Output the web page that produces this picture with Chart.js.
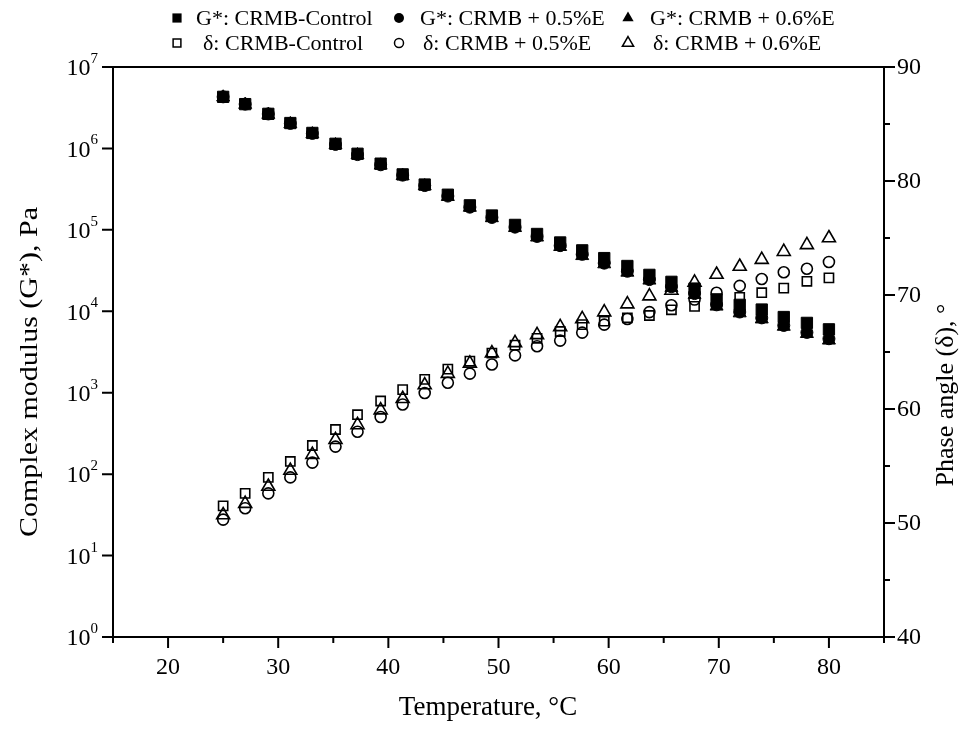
<!DOCTYPE html>
<html><head><meta charset="utf-8">
<script src="https://cdn.jsdelivr.net/npm/chart.js@4.4.0/dist/chart.umd.min.js"></script>
<style>
html,body{margin:0;padding:0;background:#fff;}
#wrap{position:relative;width:977px;height:733px;}
</style></head><body>
<div id="wrap"><canvas id="c" width="977" height="733"></canvas></div>
<script>
const temperatureC = [25, 27.0, 29.1, 31.1, 33.1, 35.2, 37.2, 39.3, 41.3, 43.3, 45.4, 47.4, 49.4, 51.5, 53.5, 55.6, 57.6, 59.6, 61.7, 63.7, 65.7, 67.8, 69.8, 71.9, 73.9, 75.9, 78.0, 80];
const gStarControl = [4.3e6, 3.5e6, 2.66e6, 2.05e6, 1.55e6, 1.14e6, 8.6e5, 6.5e5, 4.8e5, 3.6e5, 2.7e5, 2.0e5, 1.5e5, 1.15e5, 8.9e4, 7.0e4, 5.6e4, 4.5e4, 3.6e4, 2.8e4, 2.3e4, 1.9e4, 1.4e4, 1.2e4, 1.05e4, 8.5e3, 7.2e3, 6.0e3];
const gStar05E = [4.3e6, 3.5e6, 2.65e6, 2.03e6, 1.53e6, 1.12e6, 8.4e5, 6.3e5, 4.7e5, 3.5e5, 2.6e5, 1.9e5, 1.42e5, 1.08e5, 8.3e4, 6.4e4, 5.0e4, 3.9e4, 3.1e4, 2.45e4, 2.0e4, 1.65e4, 1.2e4, 9.8e3, 8.3e3, 6.7e3, 5.5e3, 4.6e3];
const gStar06E = [4.25e6, 3.45e6, 2.6e6, 2.0e6, 1.5e6, 1.1e6, 8.3e5, 6.2e5, 4.6e5, 3.45e5, 2.55e5, 1.88e5, 1.4e5, 1.06e5, 8.1e4, 6.2e4, 4.8e4, 3.8e4, 3.0e4, 2.4e4, 1.95e4, 1.6e4, 1.15e4, 9.5e3, 8.0e3, 6.5e3, 5.3e3, 4.4e3];
const deltaControl = [51.5, 52.6, 54.0, 55.4, 56.8, 58.2, 59.5, 60.7, 61.7, 62.6, 63.5, 64.2, 64.9, 65.6, 66.2, 66.8, 67.4, 67.7, 68.0, 68.2, 68.7, 69.0, 69.4, 69.8, 70.2, 70.6, 71.2, 71.5];
const delta05E = [50.3, 51.3, 52.6, 54.0, 55.3, 56.7, 58.0, 59.3, 60.4, 61.4, 62.3, 63.1, 63.9, 64.7, 65.5, 66.0, 66.7, 67.4, 67.9, 68.5, 69.1, 69.6, 70.2, 70.8, 71.4, 72.0, 72.3, 72.9];
const delta06E = [50.7, 51.7, 53.2, 54.6, 56.0, 57.3, 58.6, 59.9, 60.9, 62.1, 63.1, 64.0, 64.9, 65.8, 66.5, 67.2, 67.9, 68.5, 69.2, 69.9, 70.4, 71.1, 71.8, 72.5, 73.1, 73.8, 74.4, 75.0];

const xTickValues = [20, 30, 40, 50, 60, 70, 80];
const xMinorValues = [15, 25, 35, 45, 55, 65, 75, 85];
const gStarTickValues = [1, 10, 100, 1000, 10000, 100000, 1000000, 10000000];
const deltaTickValues = [40, 50, 60, 70, 80, 90];
const deltaMinorValues = [45, 55, 65, 75, 85];
const seriesLabels = ['G*: CRMB-Control', 'G*: CRMB + 0.5%E', 'G*: CRMB + 0.6%E', '\u03b4: CRMB-Control', '\u03b4: CRMB + 0.5%E', '\u03b4: CRMB + 0.6%E'];
const xTitle = 'Temperature, \u00b0C';
const yLeftTitle = 'Complex modulus (G*), Pa';
const yRightTitle = 'Phase angle (\u03b4), \u00b0';

const FONT = "'Liberation Serif','Times New Roman',serif";
const toPts = (ys) => temperatureC.map((t, i) => ({x: t, y: ys[i]}));

const styles = [
  {pointStyle: 'rect', r: 8, fill: true},
  {pointStyle: 'circle', r: 6, fill: true},
  {pointStyle: 'triangle', r: 7.5, fill: true},
  {pointStyle: 'rect', r: 6.5, fill: false},
  {pointStyle: 'circle', r: 5.5, fill: false},
  {pointStyle: 'triangle', r: 7.5, fill: false}
];
const seriesData = [gStarControl, gStar05E, gStar06E, deltaControl, delta05E, delta06E];

const datasets = seriesData.map((d, i) => ({
  label: seriesLabels[i],
  data: toPts(d),
  yAxisID: i < 3 ? 'y' : 'y1',
  showLine: false,
  pointStyle: styles[i].pointStyle,
  pointRadius: styles[i].r,
  pointHoverRadius: styles[i].r,
  pointBackgroundColor: styles[i].fill ? '#000' : 'rgba(0,0,0,0)',
  pointBorderColor: '#000',
  pointBorderWidth: styles[i].fill ? 1 : 1.6
}));

function drawShape(ctx, style, x, y, r, fill) {
  ctx.beginPath();
  if (style === 'rect') {
    const s = r / Math.SQRT2;
    ctx.rect(x - s, y - s, 2 * s, 2 * s);
  } else if (style === 'circle') {
    ctx.arc(x, y, r, 0, Math.PI * 2);
  } else {
    for (let k = 0; k < 3; k++) {
      const a = k * 2 * Math.PI / 3;
      const px = x + Math.sin(a) * r, py = y - Math.cos(a) * r;
      if (k === 0) ctx.moveTo(px, py); else ctx.lineTo(px, py);
    }
    ctx.closePath();
  }
  if (fill) { ctx.fillStyle = '#000'; ctx.fill(); }
  else { ctx.lineWidth = 1.5; ctx.strokeStyle = '#000'; ctx.stroke(); }
}

const decor = {
  id: 'decor',
  afterDraw(chart) {
    const ctx = chart.ctx, a = chart.chartArea;
    const xs = chart.scales.x, yl = chart.scales.y, yr = chart.scales.y1;
    ctx.save();
    ctx.strokeStyle = '#000';
    ctx.lineWidth = 2;
    ctx.strokeRect(a.left, a.top, a.right - a.left, a.bottom - a.top);
    ctx.beginPath();
    xTickValues.forEach(v => { const p = xs.getPixelForValue(v); ctx.moveTo(p, a.bottom); ctx.lineTo(p, a.bottom + 11); });
    xMinorValues.forEach(v => { const p = xs.getPixelForValue(v); ctx.moveTo(p, a.bottom); ctx.lineTo(p, a.bottom + 6); });
    gStarTickValues.forEach(v => { const p = yl.getPixelForValue(v); ctx.moveTo(a.left, p); ctx.lineTo(a.left - 11, p); });
    deltaTickValues.forEach(v => { const p = yr.getPixelForValue(v); ctx.moveTo(a.right, p); ctx.lineTo(a.right + 11, p); });
    deltaMinorValues.forEach(v => { const p = yr.getPixelForValue(v); ctx.moveTo(a.right, p); ctx.lineTo(a.right + 6, p); });
    ctx.stroke();

    ctx.fillStyle = '#000';
    // x labels
    ctx.font = '24px ' + FONT;
    ctx.textAlign = 'center';
    ctx.textBaseline = 'middle';
    xTickValues.forEach(v => ctx.fillText(String(v), xs.getPixelForValue(v), a.bottom + 31));
    // right labels
    ctx.textAlign = 'left';
    deltaTickValues.forEach(v => ctx.fillText(String(v), a.right + 13, yr.getPixelForValue(v) + 1));
    // left labels with exponents
    gStarTickValues.forEach(v => {
      const p = yl.getPixelForValue(v);
      const e = String(Math.round(Math.log10(v)));
      ctx.font = '15px ' + FONT;
      const ew = ctx.measureText(e).width;
      const right = a.left - 15;
      ctx.textAlign = 'left';
      ctx.fillText(e, right - ew, p - 8);
      ctx.font = '24px ' + FONT;
      ctx.textAlign = 'right';
      ctx.fillText('10', right - ew, p + 2);
    });
    // titles
    ctx.font = '27px ' + FONT;
    ctx.textAlign = 'center';
    ctx.fillText(xTitle, 488, 708);
    ctx.font = '30px ' + FONT;
    ctx.save();
    ctx.translate(30, 372);
    ctx.rotate(-Math.PI / 2);
    ctx.scale(1, 0.85);
    ctx.fillText(yLeftTitle, 0, 0);
    ctx.restore();
    ctx.font = '26px ' + FONT;
    ctx.save();
    ctx.translate(946, 395);
    ctx.rotate(-Math.PI / 2);
    ctx.fillText(yRightTitle, 0, 0);
    ctx.restore();
    // legend
    const legMarkX = [177, 399, 628];
    const legTextX = [[196, 420, 650], [203, 423, 653]];
    const legY = [18, 43];
    const legR = [[6.5, 5, 6.5], [5.5, 4.5, 6.5]];
    ctx.font = '22px ' + FONT;
    ctx.textAlign = 'left';
    ctx.textBaseline = 'middle';
    for (let i = 0; i < 6; i++) {
      const row = i < 3 ? 0 : 1, col = i % 3;
      drawShape(ctx, styles[i].pointStyle, legMarkX[col], legY[row], legR[row][col], styles[i].fill);
      ctx.fillStyle = '#000';
      ctx.fillText(seriesLabels[i], legTextX[row][col], legY[row] + 1);
    }
    ctx.restore();
  }
};

new Chart(document.getElementById('c'), {
  type: 'scatter',
  data: {datasets},
  options: {
    responsive: false,
    animation: false,
    layout: {padding: {top: 67, left: 0, right: 0, bottom: 0}},
    plugins: {legend: {display: false}, tooltip: {enabled: false}},
    scales: {
      x: {
        type: 'linear', min: 15, max: 85, position: 'bottom',
        grid: {display: false, drawTicks: false},
        border: {display: false},
        ticks: {display: false},
        afterFit: s => { s.height = 96; }
      },
      y: {
        type: 'logarithmic', min: 1, max: 1e7, position: 'left',
        grid: {display: false, drawTicks: false},
        border: {display: false},
        ticks: {display: false},
        afterBuildTicks: s => { s.ticks = gStarTickValues.map(v => ({value: v})); },
        afterFit: s => { s.width = 113; }
      },
      y1: {
        type: 'linear', min: 40, max: 90, position: 'right',
        grid: {display: false, drawTicks: false},
        border: {display: false},
        ticks: {display: false},
        afterBuildTicks: s => { s.ticks = deltaTickValues.map(v => ({value: v})); },
        afterFit: s => { s.width = 93; }
      }
    }
  },
  plugins: [decor]
});
</script>
</body></html>
